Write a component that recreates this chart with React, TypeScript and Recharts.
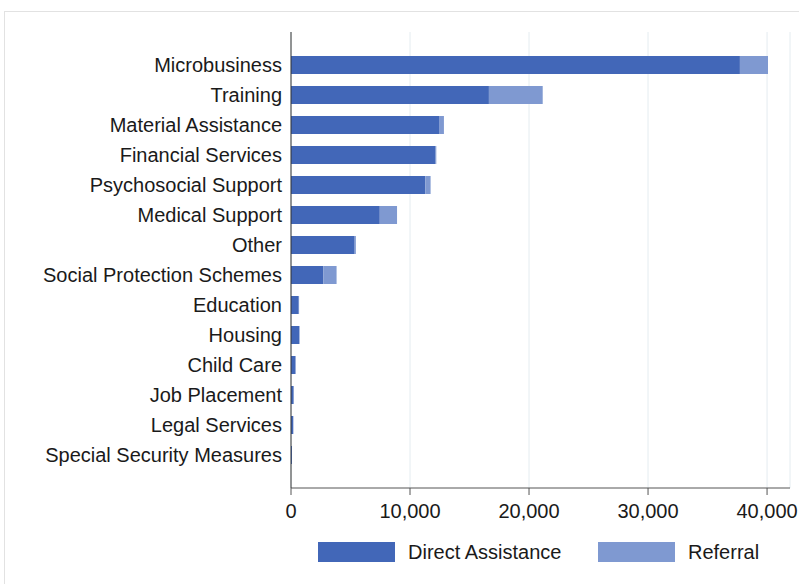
import React from "react";
import { BarChart, Bar, XAxis, YAxis, CartesianGrid } from "recharts";

const categories = [
  "Microbusiness",
  "Training",
  "Material Assistance",
  "Financial Services",
  "Psychosocial Support",
  "Medical Support",
  "Other",
  "Social Protection Schemes",
  "Education",
  "Housing",
  "Child Care",
  "Job Placement",
  "Legal Services",
  "Special Security Measures",
];
const directAssistance = [37720, 16630, 12490, 12150, 11290, 7460, 5350, 2710, 650, 700, 380, 220, 190, 80];
const referral = [2360, 4520, 360, 60, 440, 1450, 100, 1120, 30, 30, 10, 10, 10, 0];
const xTicks = [0, 10000, 20000, 30000, 40000];
const seriesNames = ["Direct Assistance", "Referral"];

const DIRECT = "#4267b8";
const REF = "#7f99d1";
const FONT = "'Liberation Sans', Arial, sans-serif";

const data = categories.map((c, i) => ({ name: c, direct: directAssistance[i], referral: referral[i] }));

export default function App() {
  return (
    <div style={{ position: "absolute", left: 0, top: 0, width: 799, height: 584, background: "#fff", overflow: "hidden" }}>
      <div style={{ position: "absolute", left: 4, top: 11, width: 820, height: 600, border: "1px solid #e2e2e2" }} />
      <div style={{ position: "absolute", left: 0, top: 0 }}>
        <BarChart
          width={799}
          height={584}
          data={data}
          layout="vertical"
          margin={{ top: 32, right: 9, left: 0, bottom: 66 }}
          barSize={18}
        >
          <CartesianGrid horizontal={false} vertical={true} stroke="#e4ecf0" />
          <XAxis
            type="number"
            domain={[0, 40000]}
            ticks={xTicks}
            padding={{ left: 0, right: 22 }}
            tickFormatter={(v: number) => v.toLocaleString("en-US")}
            axisLine={{ stroke: "#555" }}
            tickLine={{ stroke: "#555" }}
            tickSize={7}
            tickMargin={9}
            height={30}
            tick={{ fill: "#1a1a1a", fontSize: 20, fontFamily: FONT }}
          />
          <YAxis
            type="category"
            dataKey="name"
            width={291}
            padding={{ top: 18, bottom: 18 }}
            axisLine={{ stroke: "#333" }}
            tickLine={false}
            tickMargin={3}
            interval={0}
            tick={{ fill: "#1a1a1a", fontSize: 20, fontFamily: FONT }}
          />
          <Bar dataKey="direct" stackId="a" fill={DIRECT} isAnimationActive={false} name={seriesNames[0]} />
          <Bar dataKey="referral" stackId="a" fill={REF} isAnimationActive={false} name={seriesNames[1]} />
        </BarChart>
      </div>
      <div style={{ position: "absolute", left: 0, top: 542, width: 799, height: 30, fontFamily: FONT, fontSize: 20, color: "#1a1a1a" }}>
        <div style={{ position: "absolute", left: 318, top: 0, width: 77, height: 20, background: DIRECT }} />
        <div style={{ position: "absolute", left: 408, top: 0, lineHeight: "20px", whiteSpace: "nowrap" }}>{seriesNames[0]}</div>
        <div style={{ position: "absolute", left: 598, top: 0, width: 77, height: 20, background: REF }} />
        <div style={{ position: "absolute", left: 688, top: 0, lineHeight: "20px", whiteSpace: "nowrap" }}>{seriesNames[1]}</div>
      </div>
    </div>
  );
}
